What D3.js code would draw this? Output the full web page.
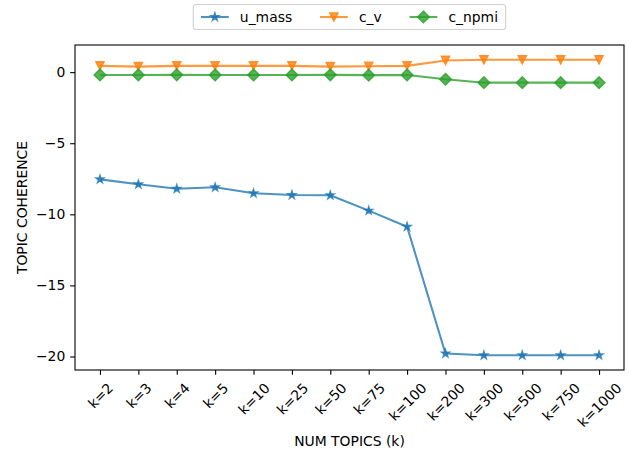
<!DOCTYPE html>
<html><head><meta charset="utf-8">
<script src="https://cdn.jsdelivr.net/npm/d3@7"></script>
<style>
body{margin:0;background:#fff;}
text{font-family:"DejaVu Sans",sans-serif;fill:#000;}
</style></head>
<body><svg id="c" width="629" height="451"></svg>
<script>
const categories = ["k=2","k=3","k=4","k=5","k=10","k=25","k=50","k=75","k=100","k=200","k=300","k=500","k=750","k=1000"];
const uMass = [-7.54,-7.89,-8.2,-8.1,-8.52,-8.64,-8.66,-9.74,-10.87,-19.79,-19.91,-19.91,-19.91,-19.91];
const cV = [0.44,0.39,0.44,0.44,0.44,0.44,0.39,0.41,0.44,0.82,0.87,0.87,0.87,0.87];
const cNpmi = [-0.2,-0.2,-0.19,-0.2,-0.2,-0.2,-0.19,-0.21,-0.2,-0.5,-0.74,-0.74,-0.74,-0.74];
const yTicks = [0,-5,-10,-15,-20];
const seriesNames = ["u_mass","c_v","c_npmi"];

const series = [
  {name:seriesNames[0], values:uMass, color:"#1f77b4", marker:"star"},
  {name:seriesNames[1], values:cV, color:"#ff7f0e", marker:"tri"},
  {name:seriesNames[2], values:cNpmi, color:"#2ca02c", marker:"diamond"}
];

const FS = 13.9;
const svg = d3.select("#c");
const L = 75, R = 624, T = 45, B = 370;

const n = categories.length;
const x = d3.scaleLinear().domain([-0.65, n - 1 + 0.65]).range([L, R]);
const all = uMass.concat(cV, cNpmi);
const mn = d3.min(all), mx = d3.max(all), pad = (mx - mn) * 0.05;
const y = d3.scaleLinear().domain([mn - pad, mx + pad]).range([B, T]);

// markers
const ms = 8.33;
function starPath(r){
  const inner = r*0.381966; let p = [];
  for(let i=0;i<10;i++){
    const rr = i%2===0? r: inner;
    const a = -Math.PI/2 + i*Math.PI/5;
    p.push([rr*Math.cos(a), rr*Math.sin(a)]);
  }
  return "M"+p.map(d=>d.join(",")).join("L")+"Z";
}
function markerPath(t){
  const h = ms/2;
  if(t==="star") return starPath(h);
  if(t==="tri") return `M0,${h}L${-h},${-h}L${h},${-h}Z`;
  const d = ms/Math.SQRT2;
  return `M0,${-d}L${d},0L0,${d}L${-d},0Z`;
}

// axes
const xAxis = d3.axisBottom(x).tickValues(d3.range(n)).tickFormat(i => categories[i]).tickSize(4.86).tickPadding(4.86);
const gx = svg.append("g").attr("transform", `translate(0,${B})`).call(xAxis);
gx.select(".domain").remove();
gx.selectAll(".tick line").attr("stroke","#000").attr("stroke-width",1.1);
gx.selectAll(".tick text").each(function(){
  const t = d3.select(this);
  t.attr("font-size", FS).attr("y", null).attr("dy", null)
   .attr("text-anchor","middle").attr("dominant-baseline","central");
  const w = this.getComputedTextLength();
  const h = 16.2;
  const bh = (w + h)/Math.SQRT2;
  const cy = 4.86 + 4.86 + bh/2;
  t.attr("transform", `translate(0,${cy}) rotate(-45)`);
});

const yAxis = d3.axisLeft(y).tickValues(yTicks).tickFormat(d => d < 0 ? "\u2212" + Math.abs(d) : d).tickSize(4.86).tickPadding(4.86);
const gy = svg.append("g").attr("transform", `translate(${L},0)`).call(yAxis);
gy.select(".domain").remove();
gy.selectAll(".tick line").attr("stroke","#000").attr("stroke-width",1.1);
gy.selectAll(".tick text").attr("font-size", FS).attr("fill","#000");

// lines
const line = d3.line().x((d,i)=>x(i)).y(d=>y(d));
series.forEach(s => {
  const g = svg.append("g");
  g.append("path").attr("d", line(s.values)).attr("fill","none")
    .attr("stroke", s.color).attr("stroke-width", 2.08).attr("stroke-opacity",0.8).attr("stroke-linejoin","round");
  g.selectAll("path.m").data(s.values).join("path").attr("class","m")
    .attr("d", markerPath(s.marker))
    .attr("transform",(d,i)=>`translate(${x(i)},${y(d)})`)
    .attr("fill", s.color).attr("fill-opacity",0.8)
    .attr("stroke", s.color).attr("stroke-opacity",0.8).attr("stroke-width",1.39).attr("stroke-linejoin","miter");
});

// frame
svg.append("rect").attr("x",L).attr("y",T).attr("width",R-L).attr("height",B-T)
  .attr("fill","none").attr("stroke","#000").attr("stroke-width",1.1);

// axis labels
svg.append("text").attr("x",(L+R)/2).attr("y",446).attr("text-anchor","middle").attr("font-size",FS).text("NUM TOPICS (k)");
svg.append("text").attr("transform",`translate(27,${(T+B)/2}) rotate(-90)`).attr("text-anchor","middle").attr("font-size",FS).text("TOPIC COHERENCE");

// legend
const lg = svg.append("g");
const hl = 2*FS, htp = 0.8*FS, cs = 2*FS, bp = 0.4*FS;
const box = lg.append("rect");
let cx = 0;
const items = [];
series.forEach((s,i) => {
  const it = lg.append("g");
  it.append("line").attr("x1",0).attr("x2",hl).attr("y1",0).attr("y2",0)
    .attr("stroke",s.color).attr("stroke-width",2.08).attr("stroke-opacity",0.8);
  it.append("path").attr("d",markerPath(s.marker)).attr("transform",`translate(${hl/2},0)`)
    .attr("fill",s.color).attr("fill-opacity",0.8).attr("stroke",s.color).attr("stroke-opacity",0.8).attr("stroke-width",1.39);
  const tx = it.append("text").attr("x",hl+htp).attr("y",0).attr("dominant-baseline","central").attr("font-size",FS).text(s.name);
  const w = tx.node().getComputedTextLength();
  items.push({g:it, w:hl+htp+w});
});
const totalW = d3.sum(items, d=>d.w) + cs*(items.length-1) + 2*bp + 0.3*FS;
const left = (L+R)/2 - totalW/2;
const boxT = 4.5, boxH = 25;
box.attr("x",left).attr("y",boxT).attr("width",totalW).attr("height",boxH).attr("rx",3)
  .attr("fill","#fff").attr("fill-opacity",0.8).attr("stroke","#d0d0d0").attr("stroke-width",1.1);
let px = left + bp + 0.15*FS;
items.forEach(it => {
  it.g.attr("transform",`translate(${px},${boxT+boxH/2})`);
  px += it.w + cs;
});
</script></body></html>
